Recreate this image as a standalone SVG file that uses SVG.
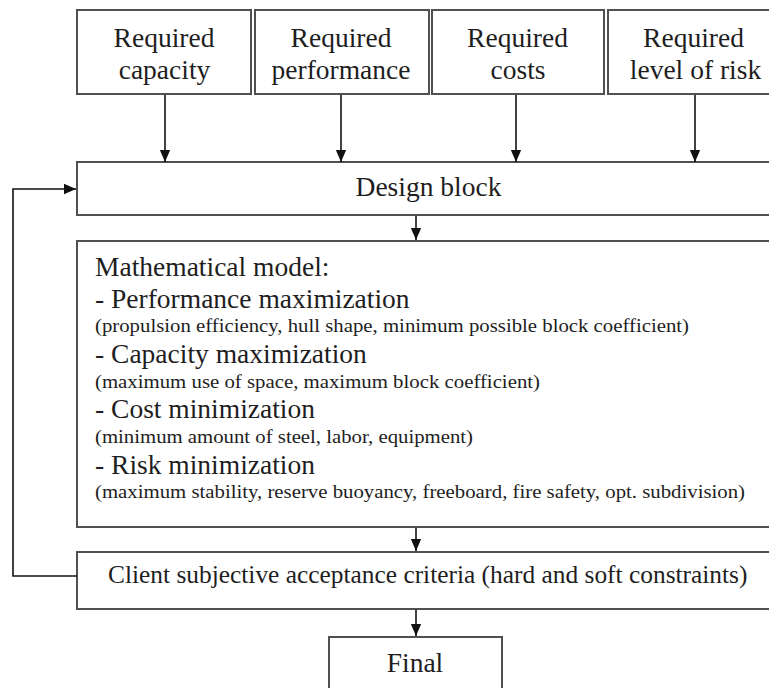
<svg xmlns="http://www.w3.org/2000/svg" width="769" height="688" viewBox="0 0 769 688">
<style>
.box{fill:#fff;stroke:#505050;stroke-width:2}
.t{font-family:"Liberation Serif","Times New Roman",serif;font-size:27.5px;fill:#1e1e1e}
.s{font-family:"Liberation Serif","Times New Roman",serif;font-size:19.5px;fill:#1e1e1e}
.c{text-anchor:middle}
.ln{fill:none;stroke:#111;stroke-width:1.6}
</style>
<defs>
<marker id="ah" markerUnits="userSpaceOnUse" markerWidth="12" markerHeight="14" refX="14" refY="6" viewBox="0 0 14 12" orient="auto">
<path d="M0,0 L14,6 L0,12 z" fill="#111"/>
</marker>
</defs>
<rect width="769" height="688" fill="#fff"/>
<g id="req-capacity"><rect class="box" x="77" y="10" width="174" height="84"/><text class="t c" x="164" y="47">Required</text><text class="t c" x="164.5" y="79">capacity</text></g>
<g id="req-performance"><rect class="box" x="255" y="10" width="174" height="84"/><text class="t c" x="341" y="47">Required</text><text class="t c" x="341" y="79">performance</text></g>
<g id="req-costs"><rect class="box" x="432" y="10" width="172" height="84"/><text class="t c" x="517.5" y="47">Required</text><text class="t c" x="518" y="79">costs</text></g>
<g id="req-risk"><rect class="box" x="608" y="10" width="170" height="84"/><text class="t c" x="693.5" y="47">Required</text><text class="t c" x="695.5" y="79">level of risk</text></g>
<g id="design"><rect class="box" x="77" y="162" width="700" height="53"/><text class="t c" x="428.5" y="196">Design block</text></g>
<g id="model"><rect class="box" x="77" y="241" width="700" height="286"/>
<text class="t" x="95" y="276">Mathematical model:</text>
<text class="t" x="95" y="308">- Performance maximization</text>
<text class="s" x="95" y="332" textLength="594" lengthAdjust="spacingAndGlyphs">(propulsion efficiency, hull shape, minimum possible block coefficient)</text>
<text class="t" x="95" y="363">- Capacity maximization</text>
<text class="s" x="95" y="388" textLength="445" lengthAdjust="spacingAndGlyphs">(maximum use of space, maximum block coefficient)</text>
<text class="t" x="95" y="418">- Cost minimization</text>
<text class="s" x="95" y="443" textLength="378" lengthAdjust="spacingAndGlyphs">(minimum amount of steel, labor, equipment)</text>
<text class="t" x="95" y="474">- Risk minimization</text>
<text class="s" x="95" y="498" textLength="650" lengthAdjust="spacingAndGlyphs">(maximum stability, reserve buoyancy, freeboard, fire safety, opt. subdivision)</text>
</g>
<g id="client"><rect class="box" x="77" y="552" width="700" height="57"/><text class="t" x="108" y="583" style="font-size:25.4px">Client subjective acceptance criteria (hard and soft constraints)</text></g>
<g id="final"><rect class="box" x="329" y="637" width="173" height="60"/><text class="t c" x="415" y="672">Final</text></g>
<g id="connectors">
<line class="ln" x1="165" y1="95" x2="165" y2="162" marker-end="url(#ah)"/>
<line class="ln" x1="341" y1="95" x2="341" y2="162" marker-end="url(#ah)"/>
<line class="ln" x1="516" y1="95" x2="516" y2="162" marker-end="url(#ah)"/>
<line class="ln" x1="695" y1="95" x2="695" y2="162" marker-end="url(#ah)"/>
<line class="ln" x1="416" y1="216" x2="416" y2="240" marker-end="url(#ah)"/>
<line class="ln" x1="416" y1="528" x2="416" y2="551" marker-end="url(#ah)"/>
<line class="ln" x1="416" y1="610" x2="416" y2="636" marker-end="url(#ah)"/>
<polyline class="ln" points="77,576 13,576 13,189 76,189" marker-end="url(#ah)"/>
</g>
</svg>
